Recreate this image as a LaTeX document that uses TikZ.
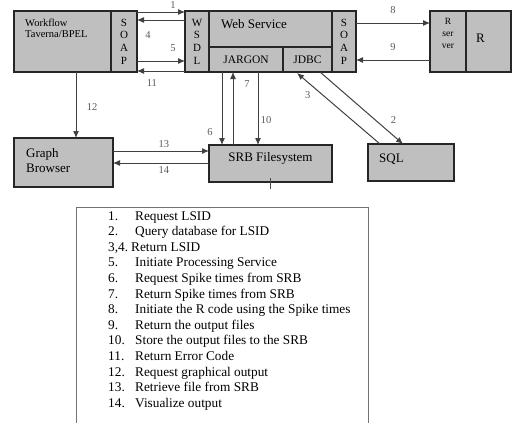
\documentclass[tikz,border=0pt]{standalone}
\usepackage{fontspec}
\setmainfont{Liberation Serif}
\usetikzlibrary{positioning,arrows.meta,calc}

\begin{document}
\begin{tikzpicture}[x=1pt,y=-1pt,>={Latex[length=7pt,width=6pt]},
   every node/.style={font=\fontsize{13}{15}\selectfont},
   box/.style={draw=black!85,line width=1.3pt,fill=black!25,inner sep=0pt,
     outer sep=0pt,anchor=north west},
   stack/.style={align=center,font=\fontsize{11}{12.7}\selectfont},
   txt/.style={inner sep=0pt},
   lab/.style={font=\fontsize{10.5}{12}\selectfont,text=black!65,inner sep=0pt},
   flow/.style={->,draw=black!75,line width=1pt}]
  \useasboundingbox (0,0) rectangle (512,423);
  \node[box,minimum width=97pt,minimum height=61pt] (wf) at (14,11) {};
  \node[box,stack,minimum width=26pt,minimum height=61pt,right=0pt of wf] (wsoap) {S\\O\\A\\P};
  \node[box,stack,minimum width=24pt,minimum height=61pt] (wsdl) at (185,11) {W\\S\\D\\L};
  \node[box,minimum width=123pt,minimum height=36pt] (ws) at (wsdl.north east) {};
  \node[box,font=\fontsize{11.5}{12}\selectfont,minimum width=74pt,minimum height=25pt] (jargon) at (ws.south west) {JARGON};
  \node[box,font=\fontsize{11.5}{12}\selectfont,minimum width=49pt,minimum height=25pt,right=0pt of jargon] (jdbc) {JDBC};
  \node[box,stack,minimum width=24pt,minimum height=61pt] (rsoap) at (ws.north east) {S\\O\\A\\P};
  \node[box,stack,font=\fontsize{9.5}{12}\selectfont,minimum width=36pt,minimum height=61pt] (rsrv) at (430,11) {R\\ser\\ver\\[4pt]};
  \node[box,minimum width=45pt,minimum height=61pt,right=0pt of rsrv] (r) {};
  \node[box,minimum width=99pt,minimum height=49pt] (gb) at (14,138) {};
  \node[box,minimum width=123pt,minimum height=37pt] (srb) at (209,145) {};
  \node[box,minimum width=86pt,minimum height=37pt] (sql) at (368,144) {};

  \node[txt,anchor=north west,align=left,font=\fontsize{10.5}{11}\selectfont] (wft) at ([shift={(11,8)}]wf.north west) {Workflow\\Taverna/BPEL};
  \node[txt,anchor=west] (wst) at ([shift={(12,13)}]ws.north west) {Web Service};
  \node[txt,anchor=west] (rt) at ([xshift=10pt,yshift=3pt]r.west) {R};
  \node[txt,anchor=north west,align=left] (gbt) at ([shift={(12,10)}]gb.north west) {Graph\\Browser};
  \node[txt] (srbt) at ([yshift=-13pt]srb.north) {SRB Filesystem};
  \node[txt,anchor=west] (sqlt) at ([shift={(11,15)}]sql.north west) {SQL};

  \draw[flow] ([yshift=-1pt]wsoap.north east) -- node[lab,pos=.75,yshift=7pt] (l1) {1} ([yshift=-1pt]wsdl.north west);
  \draw[flow] ([yshift=-9pt]wsdl.north west) -- node[lab,pos=.77,yshift=-15pt] (l4) {4} ([yshift=-9pt]wsoap.north east);
  \draw[flow] ([yshift=11pt]wsoap.south east) -- node[lab,pos=.75,yshift=13pt] (l5) {5} ([yshift=11pt]wsdl.south west);
  \draw[flow] ([yshift=1pt]wsdl.south west) -- node[lab,pos=.69,yshift=-12pt] (l11) {11} ([yshift=1pt]wsoap.south east);
  \draw[flow] ([yshift=-12pt]rsoap.north east) -- node[lab,yshift=13pt] (l8) {8} ([yshift=-12pt]rsrv.north west);
  \draw[flow] ([yshift=12pt]rsrv.south west) -- node[lab,yshift=13pt] (l9) {9} ([yshift=12pt]rsoap.south east);
  \draw[flow] ([xshift=62pt]wf.south west) -- node[lab,pos=.53,xshift=16pt] (l12) {12} ([xshift=62pt]gb.north west);
  \draw[flow] ([yshift=-13pt]gb.north east) -- node[lab,pos=.53,yshift=7pt] (l13) {13} ([yshift=-6pt]srb.north west);
  \draw[flow] ([yshift=-18pt]srb.north west) -- node[lab,pos=.47,yshift=-7pt] (l14) {14} ([yshift=-25pt]gb.north east);
  \draw[flow] ([xshift=13pt]jargon.south west) -- node[lab,pos=.82,xshift=-12pt] (l6) {6} ([xshift=13pt]srb.north west);
  \draw[flow] ([xshift=24pt]srb.north west) -- node[lab,pos=.84,xshift=14pt] (l7) {7} ([xshift=24pt]jargon.south west);
  \draw[flow] ([xshift=49pt]jargon.south west) -- node[lab,pos=.66,xshift=8pt] (l10) {10} ([xshift=49pt]srb.north west);
  \draw[flow] ([xshift=12pt]sql.north west) -- node[lab,pos=.75,xshift=-10pt,yshift=-4pt] (l3) {3} ([xshift=14pt,yshift=-1pt]jdbc.south west);
  \draw[flow] ([xshift=37pt]jdbc.south west) -- node[lab,pos=.8,xshift=7pt,yshift=10pt] (l2) {2} ([xshift=35pt]sql.north west);
  \draw[black!70,line width=0.8pt] ([yshift=4pt]srb.south) -- ([yshift=-7pt]srb.south);

  \draw[black!55,line width=0.9pt] (76,424) |- (368,207) -- (368,424);
  \node[txt,anchor=north west,align=left,font=\fontsize{13.3}{15.6}\selectfont] (leg) at (108,211) {%
    \makebox[27pt][l]{1.}Request LSID\\
    \makebox[27pt][l]{2.}Query database for LSID\\
    \makebox[23pt][l]{3,4.}Return LSID\\
    \makebox[27pt][l]{5.}Initiate Processing Service\\
    \makebox[27pt][l]{6.}Request Spike times from SRB\\
    \makebox[27pt][l]{7.}Return Spike times from SRB\\
    \makebox[27pt][l]{8.}Initiate the R code using the Spike times\\
    \makebox[27pt][l]{9.}Return the output files\\
    \makebox[27pt][l]{10.}Store the output files to the SRB\\
    \makebox[27pt][l]{11.}Return Error Code\\
    \makebox[27pt][l]{12.}Request graphical output\\
    \makebox[27pt][l]{13.}Retrieve file from SRB\\
    \makebox[27pt][l]{14.}Visualize output};
\end{tikzpicture}
\end{document}
